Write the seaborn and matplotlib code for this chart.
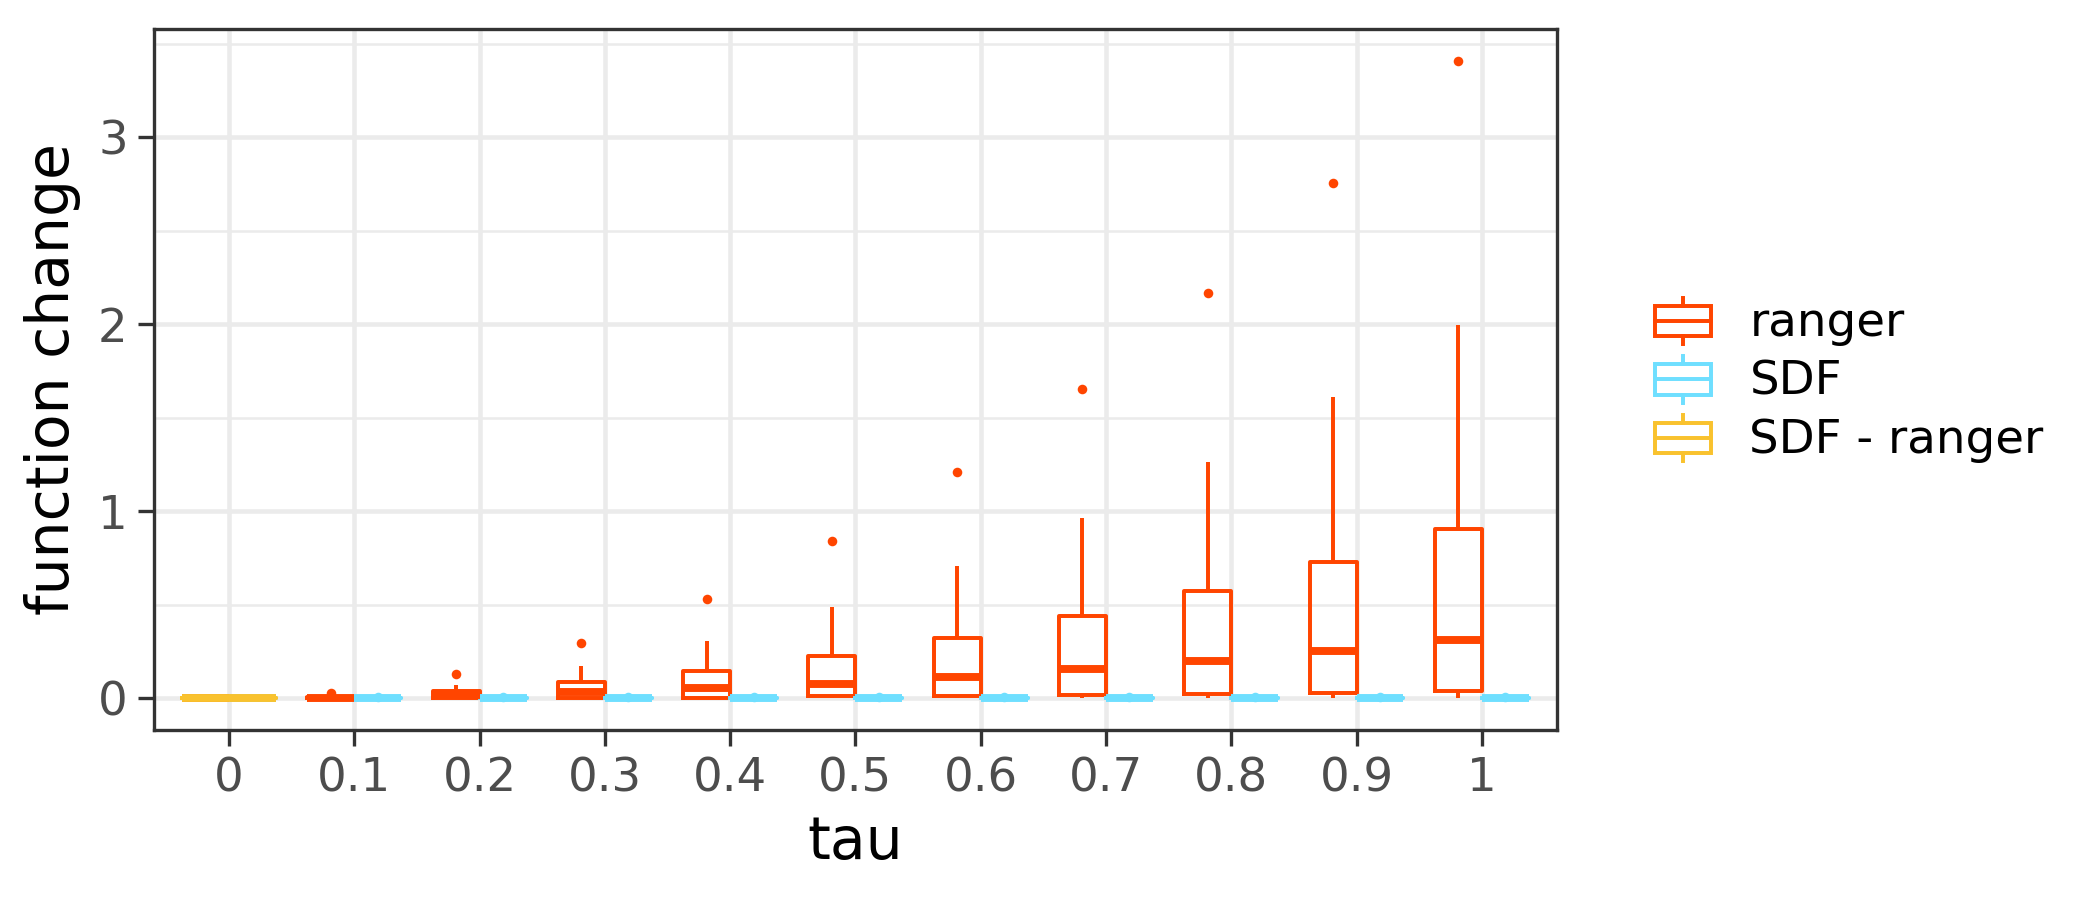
import pandas as pd
import matplotlib.pyplot as plt
import seaborn as sns
from matplotlib.legend_handler import HandlerBase
from matplotlib.patches import Rectangle
from matplotlib.lines import Line2D
from matplotlib.ticker import MultipleLocator

tau_labels = ['0', '0.1', '0.2', '0.3', '0.4', '0.5', '0.6', '0.7', '0.8', '0.9', '1']
methods = ['ranger', 'SDF', 'SDF - ranger']
colors = ['#FF4500', '#6FDFFF', '#F9C22E']

# ranger, box summaries (one per tau)
ranger_low = [0, 0, 0, 0, 0, 0, 0, 0, 0.003, 0, 0]
ranger_q1 = [0, 0, 0.001, 0.002, 0.002, 0.010, 0.014, 0.015, 0.022, 0.028, 0.037]
ranger_median = [0, 0.003, 0.015, 0.035, 0.052, 0.077, 0.112, 0.155, 0.199, 0.254, 0.312]
ranger_q3 = [0, 0.008, 0.040, 0.086, 0.146, 0.223, 0.323, 0.437, 0.572, 0.729, 0.905]
ranger_high = [0, 0.015, 0.071, 0.170, 0.305, 0.488, 0.707, 0.965, 1.265, 1.613, 1.996]
ranger_outlier = [0, 0.030, 0.129, 0.296, 0.532, 0.839, 1.211, 1.656, 2.170, 2.755, 3.410]

# SDF stays essentially at zero
sdf_low = [0, 0, 0, 0, 0, 0, 0, 0, 0, 0, 0]
sdf_q1 = [0, 0.0003, 0.0003, 0.0003, 0.0003, 0.0003, 0.0003, 0.0003, 0.0003, 0.0003, 0.0003]
sdf_median = [0, 0.0008, 0.0008, 0.0008, 0.0008, 0.0008, 0.0008, 0.0008, 0.0008, 0.0008, 0.0008]
sdf_q3 = [0, 0.0012, 0.0012, 0.0012, 0.0012, 0.0012, 0.0012, 0.0012, 0.0012, 0.0012, 0.0012]
sdf_high = [0, 0.0018, 0.0018, 0.0018, 0.0018, 0.0018, 0.0018, 0.0018, 0.0018, 0.0018, 0.0018]
sdf_outlier = [0, 0.004, 0.004, 0.004, 0.004, 0.004, 0.004, 0.004, 0.004, 0.004, 0.004]

# SDF - ranger only at tau = 0
diff_values = [0, 0, 0, 0, 0, 0, 0, 0, 0]


def box_sample(low, q1, med, q3, high, out):
    # 9 observations whose quartiles / whiskers / outlier give the box
    return [low, low, q1, q1, med, q3, q3, high, out]


rows = []
for i, t in enumerate(tau_labels):
    for v in box_sample(ranger_low[i], ranger_q1[i], ranger_median[i],
                        ranger_q3[i], ranger_high[i], ranger_outlier[i]):
        rows.append((t, 'ranger', v))
    for v in box_sample(sdf_low[i], sdf_q1[i], sdf_median[i],
                        sdf_q3[i], sdf_high[i], sdf_outlier[i]):
        rows.append((t, 'SDF', v))
df_main = pd.DataFrame(rows, columns=['tau', 'method', 'value'])
df_diff = pd.DataFrame({'tau': '0', 'method': 'SDF - ranger', 'value': diff_values})

plt.rcParams['font.family'] = ['DejaVu Sans']

fig, ax = plt.subplots(figsize=(7, 3), dpi=300)
fig.subplots_adjust(left=0.0733, right=0.7414, bottom=0.1889, top=0.9678)

box_kws = dict(fill=False, width=0.75, gap=0, linewidth=0.95, fliersize=2.3,
               showcaps=False, medianprops=dict(linewidth=1.9),
               flierprops=dict(marker='o'), legend=False, ax=ax)
sns.boxplot(data=df_main, x='tau', y='value', hue='method', order=tau_labels,
            hue_order=methods[:2], palette=colors[:2], dodge=True, **box_kws)
sns.boxplot(data=df_diff, x='tau', y='value', hue='method', order=tau_labels,
            hue_order=methods[2:], palette=colors[2:], **box_kws)

# filled outlier dots like ggplot
for ln in ax.lines:
    if ln.get_marker() not in ('None', '', None):
        ln.set_markerfacecolor(ln.get_markeredgecolor())
        ln.set_markeredgewidth(0)

ax.set_xlim(-0.6, 10.6)
ax.set_ylim(-0.1705, 3.5805)
ax.yaxis.set_major_locator(MultipleLocator(1))
ax.yaxis.set_minor_locator(MultipleLocator(0.5))
ax.set_axisbelow(True)
ax.grid(which='major', color='#EBEBEB', linewidth=1.1)
ax.grid(which='minor', axis='y', color='#EBEBEB', linewidth=0.6)
ax.tick_params(which='major', length=3.8, width=0.8, color='#333333',
               labelcolor='#4D4D4D', labelsize=11.2, pad=2.5)
ax.tick_params(which='minor', length=0)
for sp in ax.spines.values():
    sp.set_visible(True)
    sp.set_color('#333333')
    sp.set_linewidth(0.8)
ax.set_xlabel('tau', fontsize=14, labelpad=3)
ax.set_ylabel('function change', fontsize=14, labelpad=4)


class BoxHandler(HandlerBase):
    def create_artists(self, legend, orig_handle, xdescent, ydescent,
                       width, height, fontsize, trans):
        c = orig_handle.get_color()
        x0, x1 = 0.11 * width - xdescent, 0.89 * width - xdescent
        xm = 0.5 * width - xdescent
        y0, y1 = 0.24 * height - ydescent, 0.76 * height - ydescent
        ym = 0.5 * height - ydescent
        box = Rectangle((x0, y0), x1 - x0, y1 - y0, facecolor='white',
                        edgecolor=c, linewidth=0.95, transform=trans)
        med = Line2D([x0, x1], [ym, ym], color=c, linewidth=0.95, transform=trans)
        top = Line2D([xm, xm], [y1, 0.9 * height - ydescent], color=c,
                     linewidth=0.95, transform=trans)
        bot = Line2D([xm, xm], [0.1 * height - ydescent, y0], color=c,
                     linewidth=0.95, transform=trans)
        return [box, med, top, bot]


handles = [Line2D([], [], color=c) for c in colors]
ax.legend(handles, methods, handler_map={Line2D: BoxHandler()},
          loc='center left', bbox_to_anchor=(1.064, 0.5), frameon=False,
          fontsize=11.2, handlelength=1.55, handleheight=1.55, labelspacing=0,
          handletextpad=0.65, borderpad=0, borderaxespad=0)

plt.savefig('out.png', dpi=300)
